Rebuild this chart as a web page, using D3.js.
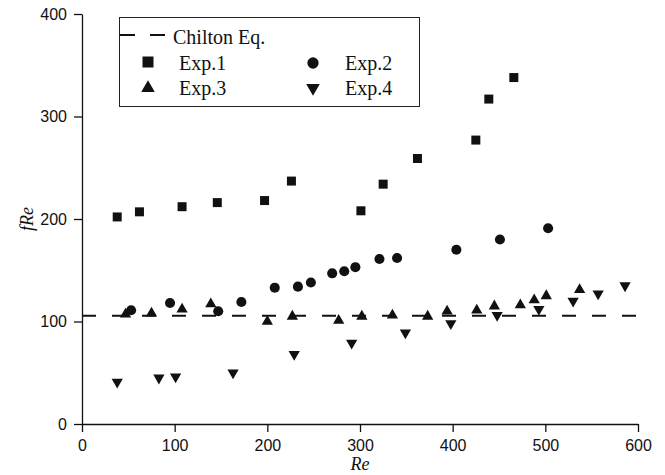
<!DOCTYPE html>
<html>
<head>
<meta charset="utf-8">
<script src="https://cdn.jsdelivr.net/npm/d3@7/dist/d3.min.js"></script>
<style>
  html, body { margin: 0; padding: 0; background: #fff; }
  svg { display: block; }
</style>
</head>
<body>
<svg id="chart" width="665" height="475"></svg>
<script>
// ---- data ----
const exp1 = [[38,202],[62,207],[108,212],[146,216],[197,218],[226,237],[301,208],[325,234],[362,259],[425,277],[439,317],[466,338]];
const exp2 = [[53,111],[95,118],[147,110],[172,119],[208,133],[233,134],[247,138],[270,147],[283,149],[295,153],[321,161],[340,162],[404,170],[451,180],[503,191]];
const exp3 = [[47,107],[75,108],[108,112],[139,117],[200,100],[227,105],[277,101],[302,105],[335,106],[373,105],[394,110],[426,111],[445,115],[473,116],[488,121],[501,125],[537,131]];
const exp4 = [[38,41],[83,45],[101,46],[163,50],[229,68],[291,79],[349,89],[398,98],[448,106],[493,112],[530,120],[557,127],[586,135]];
const chiltonValue = 105.5;
const chiltonRange = [0, 600];
const xTicks = [0,100,200,300,400,500,600];
const yTicks = [0,100,200,300,400];
const seriesNames = ["Exp.1","Exp.2","Exp.3","Exp.4"];
const lineName = "Chilton Eq.";

const svg = d3.select("#chart");
const x = d3.scaleLinear().domain([0,600]).range([82,638]);
const y = d3.scaleLinear().domain([0,400]).range([424,14]);
const ink = "#111";

// minor ticks
const xMinor = d3.range(0, 601, 20).filter(v => v % 100 !== 0);
const yMinor = d3.range(0, 401, 20).filter(v => v % 100 !== 0);

const gx = svg.append("g").attr("transform", "translate(0,424)");
gx.call(d3.axisBottom(x).tickValues(xMinor).tickSize(4.5).tickSizeOuter(0).tickFormat(""));
gx.call(d3.axisBottom(x).tickValues(xTicks).tickSize(8).tickSizeOuter(0).tickPadding(8).tickFormat(d3.format("d")));
gx.selectAll("text").attr("font-family", "Liberation Sans, Arial, sans-serif").attr("font-size", 16).attr("fill", ink);

const gy = svg.append("g").attr("transform", "translate(82,0)");
gy.call(d3.axisLeft(y).tickValues(yMinor).tickSize(4.5).tickSizeOuter(0).tickFormat(""));
gy.call(d3.axisLeft(y).tickValues(yTicks).tickSize(8).tickSizeOuter(0).tickPadding(7).tickFormat(d3.format("d")));
gy.selectAll("text").attr("font-family", "Liberation Sans, Arial, sans-serif").attr("font-size", 16).attr("fill", ink);

svg.selectAll(".domain, .tick line").attr("stroke", ink).attr("stroke-width", 1.3);

// axis titles
svg.append("text").attr("x", 360).attr("y", 470).attr("text-anchor", "middle")
  .attr("font-family", "Liberation Serif, Times New Roman, serif").attr("font-style", "italic")
  .attr("font-size", 18).attr("fill", ink).text("Re");
svg.append("text").attr("transform", "translate(27,219) rotate(-90)").attr("text-anchor", "middle")
  .attr("dominant-baseline", "central")
  .attr("font-family", "Liberation Serif, Times New Roman, serif").attr("font-style", "italic")
  .attr("font-size", 18).attr("fill", ink).text("fRe");

// Chilton line
svg.append("line")
  .attr("x1", x(chiltonRange[0])).attr("x2", x(chiltonRange[1]))
  .attr("y1", y(chiltonValue)).attr("y2", y(chiltonValue))
  .attr("stroke", ink).attr("stroke-width", 2).attr("stroke-dasharray", "14,16");

// markers
const sq = d3.symbol().type(d3.symbolSquare).size(81);
const ci = d3.symbol().type(d3.symbolCircle).size(80);
const tri = d3.symbol().type(d3.symbolTriangle).size(55);

function plot(data, gen, rot) {
  svg.append("g").selectAll("path").data(data).join("path")
    .attr("d", gen)
    .attr("transform", d => `translate(${x(d[0])},${y(d[1])})${rot ? " rotate(180)" : ""}`)
    .attr("fill", ink);
}
plot(exp1, sq, false);
plot(exp2, ci, false);
plot(exp3, tri, false);
plot(exp4, tri, true);

// legend
const lg = svg.append("g");
lg.append("rect").attr("x", 119.5).attr("y", 17.5).attr("width", 300).attr("height", 89)
  .attr("fill", "#fff").attr("stroke", "#222").attr("stroke-width", 1);
lg.append("line").attr("x1", 120).attr("x2", 166).attr("y1", 35).attr("y2", 35)
  .attr("stroke", ink).attr("stroke-width", 2).attr("stroke-dasharray", "15,15");
const lfont = "Liberation Serif, Times New Roman, serif";
lg.append("text").attr("x", 173).attr("y", 43.5).attr("font-family", lfont).attr("font-size", 20).attr("fill", ink).text(lineName);
const lsq = d3.symbol().type(d3.symbolSquare).size(121);
const lci = d3.symbol().type(d3.symbolCircle).size(100);
const ltri = d3.symbol().type(d3.symbolTriangle).size(80);
const legendItems = [
  {name: seriesNames[0], gen: lsq, rot: false, mx: 148, tx: 179, cy: 62, by: 69.5},
  {name: seriesNames[1], gen: lci, rot: false, mx: 313, tx: 345, cy: 63, by: 69.5},
  {name: seriesNames[2], gen: ltri, rot: false, mx: 148, tx: 179, cy: 88, by: 95},
  {name: seriesNames[3], gen: ltri, rot: true, mx: 313, tx: 345, cy: 88, by: 95}
];
legendItems.forEach(it => {
  lg.append("path").attr("d", it.gen).attr("fill", ink)
    .attr("transform", `translate(${it.mx},${it.cy})${it.rot ? " rotate(180)" : ""}`);
  lg.append("text").attr("x", it.tx).attr("y", it.by).attr("font-family", lfont).attr("font-size", 20).attr("fill", ink).text(it.name);
});
</script>
</body>
</html>
